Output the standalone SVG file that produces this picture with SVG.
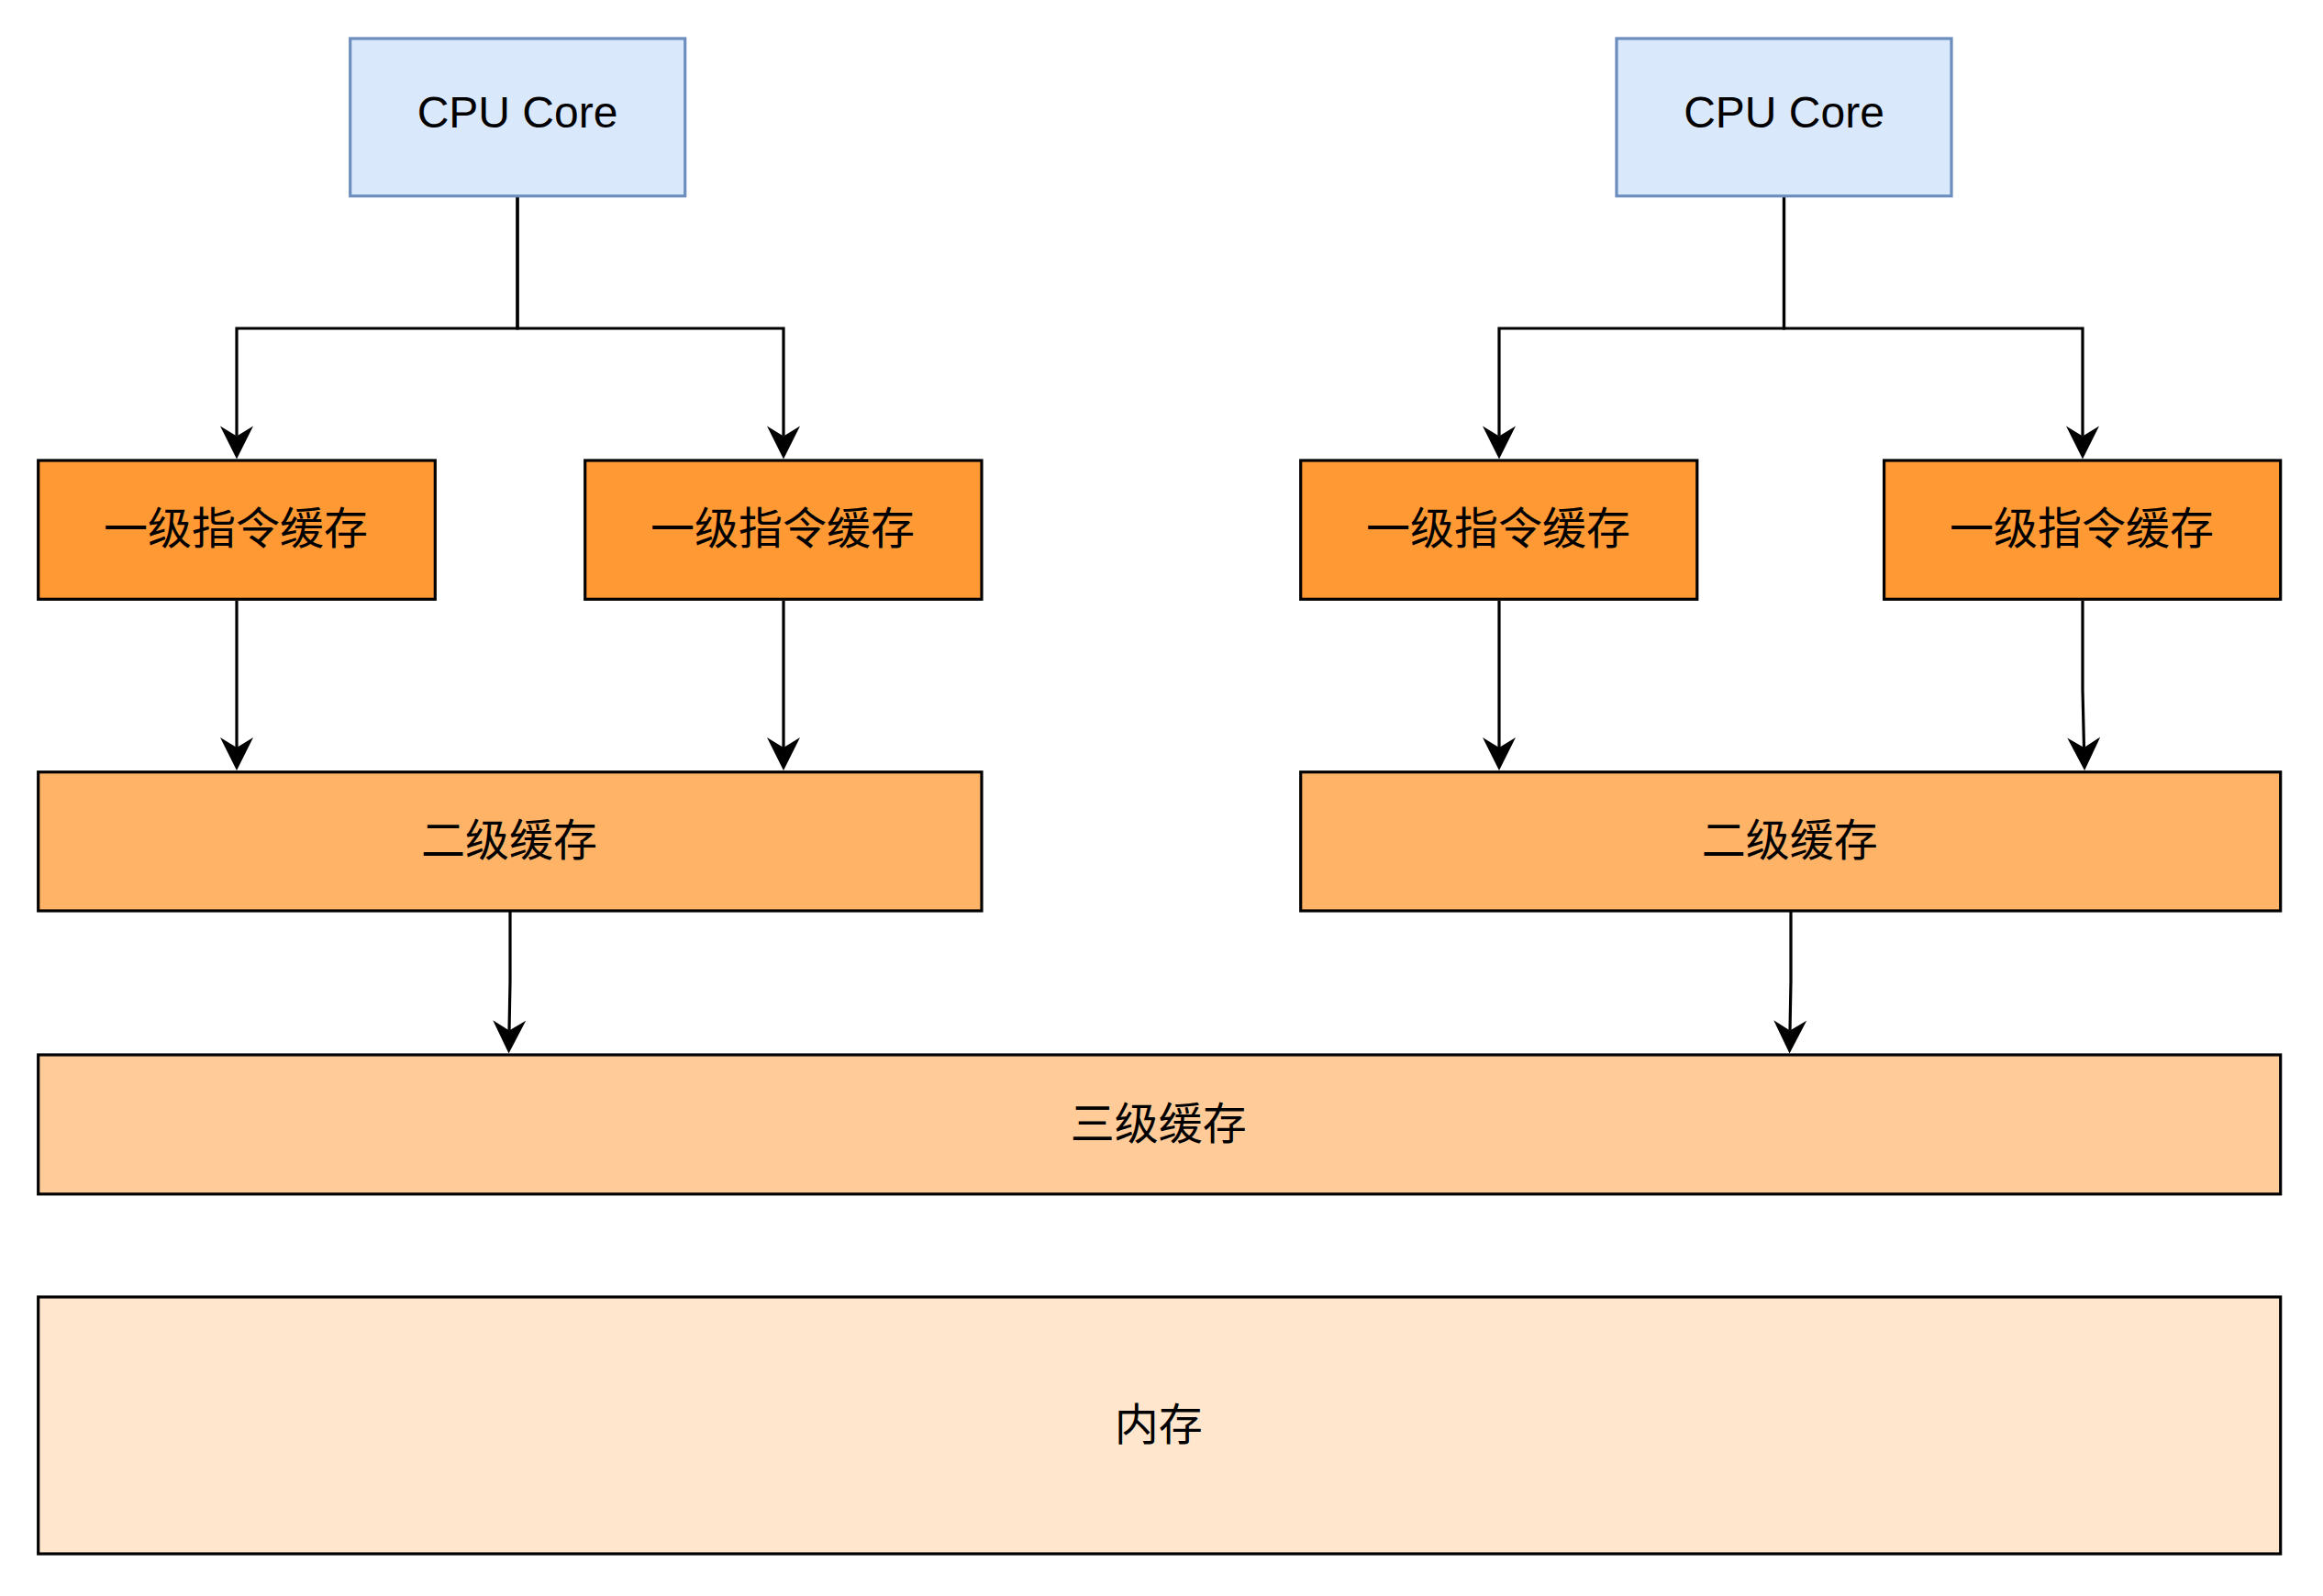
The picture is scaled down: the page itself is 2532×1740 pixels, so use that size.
<svg xmlns="http://www.w3.org/2000/svg" width="2532" height="1740" viewBox="0 0 2532 1740">
  <style>
    .box { stroke: #000000; stroke-width: 3.2; }
    .cpu { fill: #dae8fc; stroke: #6c8ebf; stroke-width: 3.2; }
    .l1 { fill: #ff9933; }
    .l2 { fill: #ffb366; }
    .l3 { fill: #ffcc99; }
    .mem { fill: #ffe6cc; }
    .lat { font-family: "Liberation Sans", Arial, "Noto Sans CJK SC", sans-serif; font-size: 48px; fill: #000000; text-anchor: middle; dominant-baseline: central; }
    .cjk { font-family: "Noto Sans CJK SC", "Liberation Sans", sans-serif; font-size: 48px; fill: #000000; text-anchor: middle; dominant-baseline: central; }
    .edge { fill: none; stroke: #000000; stroke-width: 3.2; stroke-linejoin: miter; }
  </style>
  <defs>
    <marker id="arrow" markerUnits="userSpaceOnUse" viewBox="-12 -20 40 40" markerWidth="40" markerHeight="40" refX="0" refY="0" orient="auto" overflow="visible">
      <path d="M-11,-18 L25,0 L-11,18 L0,0 Z" fill="#000000" stroke="none"/>
    </marker>
  </defs>
  <rect width="2532" height="1740" fill="#ffffff"/>

  <g id="connectors">
    <path class="edge" d="M564,215 V358 H258 V475.5" marker-end="url(#arrow)"/>
    <path class="edge" d="M564,215 V358 H854 V475.5" marker-end="url(#arrow)"/>
    <path class="edge" d="M1944.5,215 V358 H1634 V475.5" marker-end="url(#arrow)"/>
    <path class="edge" d="M1944.5,215 V358 H2270 V475.5" marker-end="url(#arrow)"/>
    <path class="edge" d="M258,655 V815" marker-end="url(#arrow)"/>
    <path class="edge" d="M854,655 V815" marker-end="url(#arrow)"/>
    <path class="edge" d="M1634,655 V815" marker-end="url(#arrow)"/>
    <path class="edge" d="M2270,655 V752 L2271.5,815" marker-end="url(#arrow)"/>
    <path class="edge" d="M556,994 V1070 L555,1123.5" marker-end="url(#arrow)"/>
    <path class="edge" d="M1952,994 V1070 L1951,1123.5" marker-end="url(#arrow)"/>
  </g>

  <g id="cpu-core-1">
    <rect class="cpu" x="381.7" y="42" width="365" height="171.7"/>
    <text class="lat" x="564" y="122">CPU Core</text>
  </g>
  <g id="cpu-core-2">
    <rect class="cpu" x="1762" y="42" width="365" height="171.7"/>
    <text class="lat" x="1944.5" y="122">CPU Core</text>
  </g>

  <g id="l1-cache-1">
    <rect class="box l1" x="41.7" y="502" width="432.6" height="151.3"/>
    <text class="cjk" x="257" y="572">一级指令缓存</text>
  </g>
  <g id="l1-cache-2">
    <rect class="box l1" x="637.7" y="502" width="432.3" height="151.3"/>
    <text class="cjk" x="853" y="572">一级指令缓存</text>
  </g>
  <g id="l1-cache-3">
    <rect class="box l1" x="1417.7" y="502" width="432.1" height="151.3"/>
    <text class="cjk" x="1633" y="572">一级指令缓存</text>
  </g>
  <g id="l1-cache-4">
    <rect class="box l1" x="2053.6" y="502" width="432.1" height="151.3"/>
    <text class="cjk" x="2269" y="572">一级指令缓存</text>
  </g>

  <g id="l2-cache-1">
    <rect class="box l2" x="41.7" y="841.7" width="1028.3" height="151.3"/>
    <text class="cjk" x="555" y="912">二级缓存</text>
  </g>
  <g id="l2-cache-2">
    <rect class="box l2" x="1417.7" y="841.7" width="1068" height="151.3"/>
    <text class="cjk" x="1950.7" y="912">二级缓存</text>
  </g>

  <g id="l3-cache">
    <rect class="box l3" x="41.7" y="1150" width="2444" height="151.8"/>
    <text class="cjk" x="1262.7" y="1221">三级缓存</text>
  </g>

  <g id="memory">
    <rect class="box mem" x="41.7" y="1414" width="2444" height="280"/>
    <text class="cjk" x="1262.7" y="1549">内存</text>
  </g>
</svg>
